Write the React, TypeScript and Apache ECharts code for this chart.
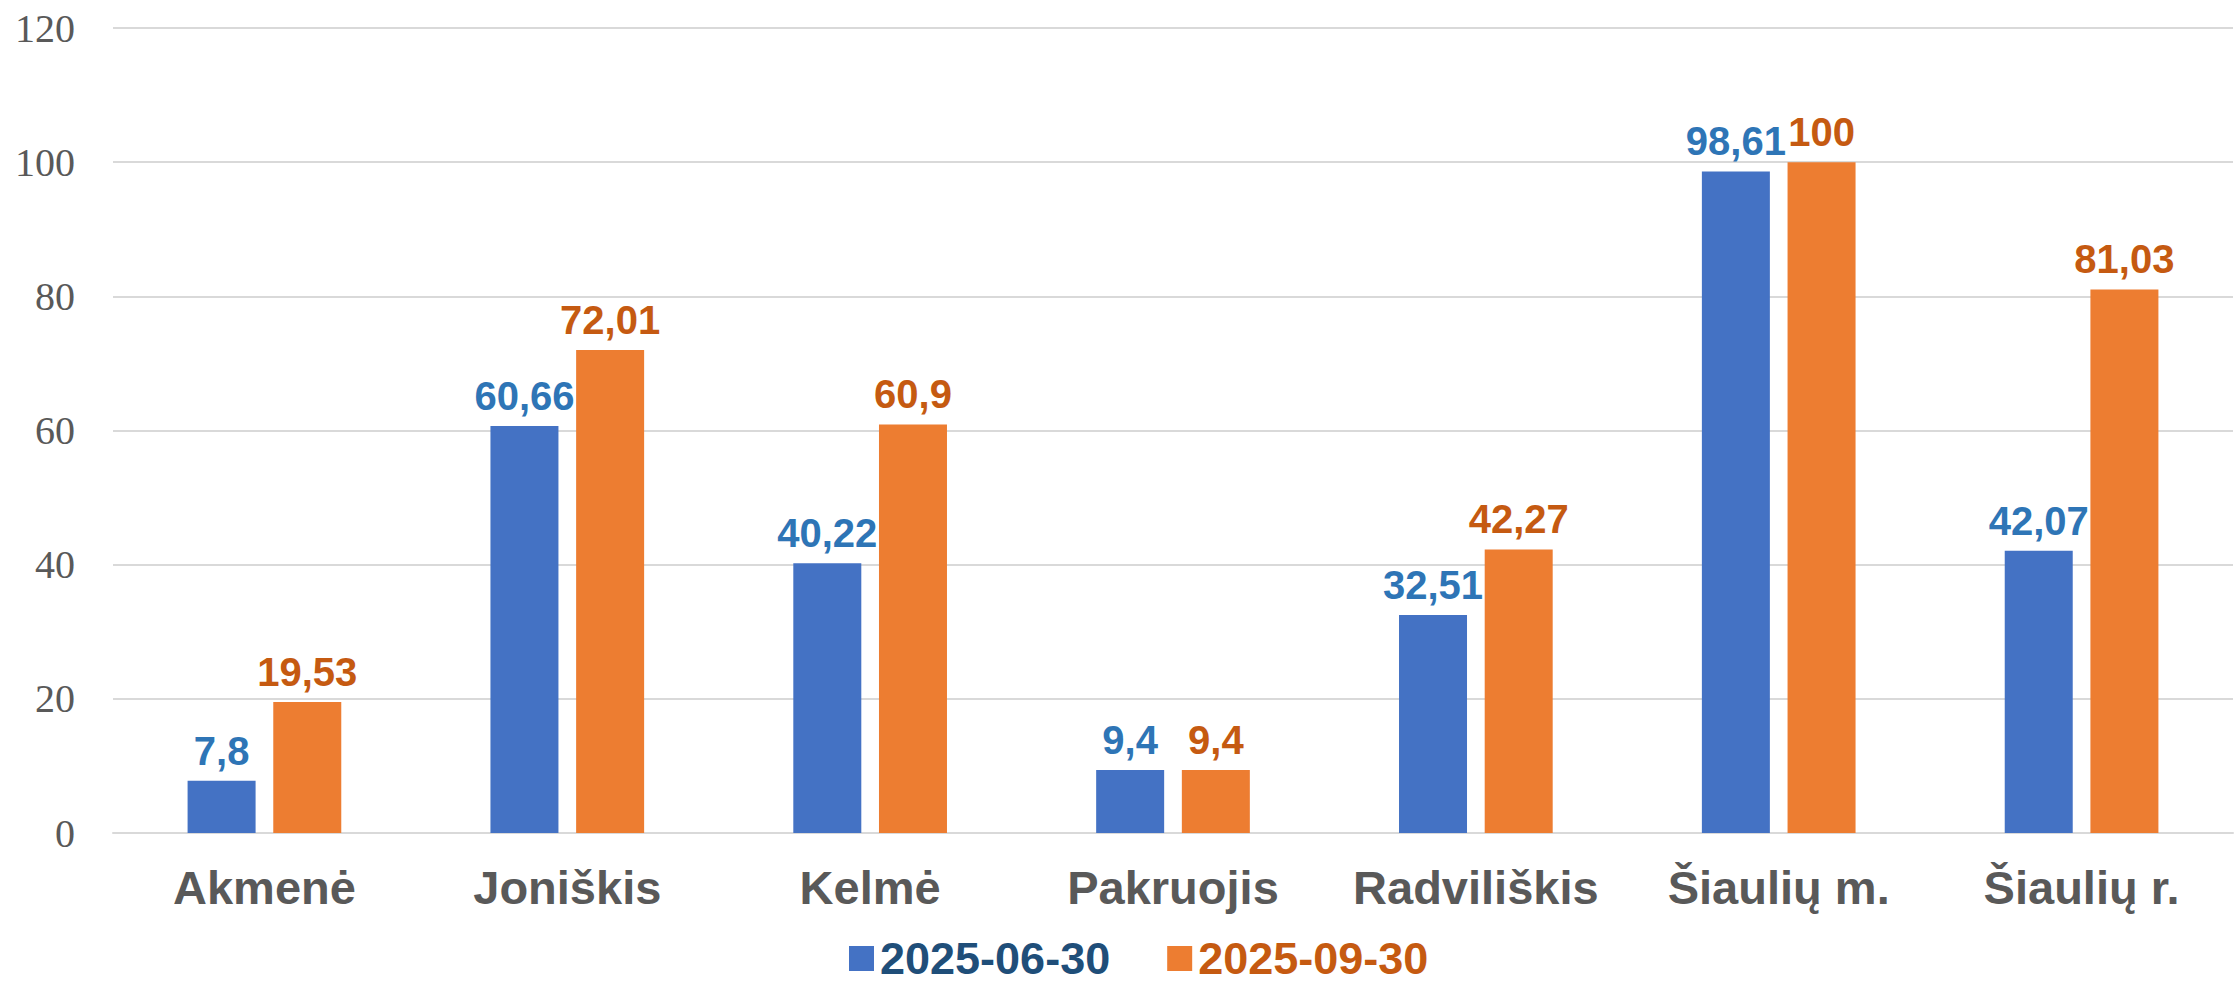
import React, { useEffect, useRef } from "react";
import * as echarts from "echarts";

const categories = ["Akmenė", "Joniškis", "Kelmė", "Pakruojis", "Radviliškis", "Šiaulių m.", "Šiaulių r."];
const seriesNames = ["2025-06-30", "2025-09-30"];
const valuesJune = [7.8, 60.66, 40.22, 9.4, 32.51, 98.61, 42.07];
const valuesSept = [19.53, 72.01, 60.9, 9.4, 42.27, 100, 81.03];
const yTicks = { min: 0, max: 120, interval: 20 };

const fmt = (v: number) => String(v).replace(".", ",");
const sans = "'Liberation Sans', Arial, sans-serif";

export default function App() {
  const ref = useRef<HTMLDivElement>(null);
  useEffect(() => {
    document.body.style.margin = "0";
    const chart = echarts.init(ref.current!, null, { renderer: "svg" });
    chart.setOption({
      animation: false,
      backgroundColor: "#ffffff",
      grid: { left: 113, right: 4, top: 28, bottom: 150, containLabel: false },
      legend: {
        left: 849,
        top: 936,
        padding: 0,
        itemWidth: 25,
        itemHeight: 25,
        itemGap: 57,
        icon: "rect",
        textStyle: { fontFamily: sans, fontWeight: "bold", fontSize: 45, padding: [0, 0, 0, 1] },
        data: [
          { name: seriesNames[0], textStyle: { color: "#1F4E79" } },
          { name: seriesNames[1], textStyle: { color: "#C55A11" } },
        ],
      },
      xAxis: {
        type: "category",
        data: categories,
        axisLine: { lineStyle: { color: "#D9D9D9", width: 2 } },
        axisTick: { show: false },
        axisLabel: {
          interval: 0,
          color: "#595959",
          fontFamily: sans,
          fontWeight: "bold",
          fontSize: 47,
          margin: 31,
        },
      },
      yAxis: {
        type: "value",
        min: yTicks.min,
        max: yTicks.max,
        interval: yTicks.interval,
        axisLine: { show: false },
        axisTick: { show: false },
        splitLine: { lineStyle: { color: "#D9D9D9", width: 2 } },
        axisLabel: {
          color: "#595959",
          fontFamily: "'Liberation Serif', 'Times New Roman', serif",
          fontSize: 40,
          margin: 38,
        },
      },
      series: [
        {
          name: seriesNames[0],
          type: "bar",
          data: valuesJune,
          barWidth: 68,
          barGap: "26%",
          itemStyle: { color: "#4472C4" },
          label: {
            show: true,
            position: "top",
            distance: 10,
            color: "#2E75B6",
            fontFamily: sans,
            fontWeight: "bold",
            fontSize: 40,
            formatter: (p: any) => fmt(p.value),
          },
        },
        {
          name: seriesNames[1],
          type: "bar",
          data: valuesSept,
          barWidth: 68,
          barGap: "26%",
          itemStyle: { color: "#ED7D31" },
          label: {
            show: true,
            position: "top",
            distance: 10,
            color: "#C55A11",
            fontFamily: sans,
            fontWeight: "bold",
            fontSize: 40,
            formatter: (p: any) => fmt(p.value),
          },
        },
      ],
    });
    return () => chart.dispose();
  }, []);
  return <div ref={ref} style={{ width: 2237, height: 983 }} />;
}
